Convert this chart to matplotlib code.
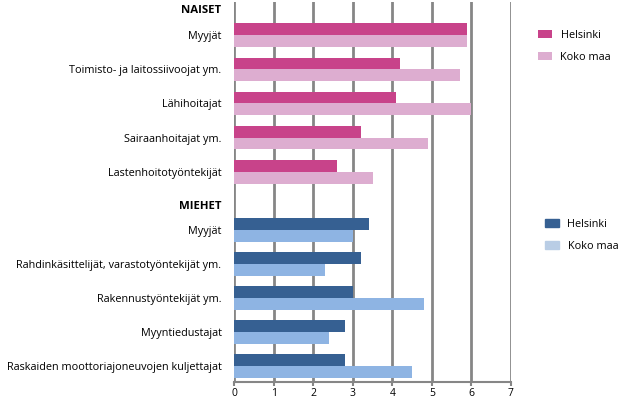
import matplotlib
matplotlib.use("Agg")
import matplotlib.pyplot as plt
import matplotlib.patches as mpatches
import numpy as np

plt.rcParams['font.family'] = ['Open Sans', 'DejaVu Sans']

women_cats = ["Myyjät", "Toimisto- ja laitossiivoojat ym.", "Lähihoitajat",
              "Sairaanhoitajat ym.", "Lastenhoitotyöntekijät"]
women_helsinki = [5.9, 4.2, 4.1, 3.2, 2.6]
women_koko = [5.9, 5.7, 6.0, 4.9, 3.5]

men_cats = ["Myyjät", "Rahdinkäsittelijät, varastotyöntekijät ym.", "Rakennustyöntekijät ym.",
            "Myyntiedustajat", "Raskaiden moottoriajoneuvojen kuljettajat"]
men_helsinki = [3.4, 3.2, 3.0, 2.8, 2.8]
men_koko = [3.0, 2.3, 4.8, 2.4, 4.5]

series_labels = ["Helsinki", "Koko maa"]
headers = ["NAISET", "MIEHET"]
xticks = list(range(0, 8))

W, H = 619, 399
fig = plt.figure(figsize=(W / 100, H / 100), dpi=100)

left = 234 / W
width = (511 - 234) / W
ax1 = fig.add_axes([left, 1 - 195 / H, width, (195 - 2) / H])
ax2 = fig.add_axes([left, 1 - 382 / H, width, (382 - 195) / H])

grid_color = "#868686"
bar_h = 0.34
fs = 7.8

def draw(ax, cats, hel, koko, header, colors, ylim, header_y, xaxis):
    y = np.arange(1, len(cats) + 1)
    ax.barh(y - bar_h / 2, hel, height=bar_h, color=colors[0], label=series_labels[0], zorder=3)
    ax.barh(y + bar_h / 2, koko, height=bar_h, color=colors[1], label=series_labels[1], zorder=3)
    ax.set_xlim(0, 7)
    ax.set_ylim(*ylim)
    ax.set_yticks(list(y) + [header_y])
    ax.set_yticklabels(cats + [header])
    for lbl in ax.get_yticklabels():
        lbl.set_fontsize(fs)
        lbl.set_color("#000000")
    ax.get_yticklabels()[-1].set_fontweight("bold")
    ax.get_yticklabels()[-1].set_fontsize(8.2)
    ax.tick_params(axis='y', length=0, pad=9)
    ax.set_xticks(xticks)
    ax.grid(axis='x', color=grid_color, linewidth=2, zorder=0)
    for s in ["top", "right", "left"]:
        ax.spines[s].set_visible(False)
    if xaxis:
        ax.spines["bottom"].set_color(grid_color)
        ax.spines["bottom"].set_linewidth(1.5)
        ax.tick_params(axis='x', length=3, color=grid_color, width=1.5, labelsize=7.5, pad=1)
    else:
        ax.spines["bottom"].set_visible(False)
        ax.tick_params(axis='x', length=0, labelbottom=False)

draw(ax1, women_cats, women_helsinki, women_koko, headers[0],
     ["#C8438A", "#DDADD0"], (5.67, 0.04), 0.24, False)
draw(ax2, men_cats, men_helsinki, men_koko, headers[1],
     ["#366092", "#8EB4E3"], (5.47, -0.03), 0.26, True)

leg1 = fig.legend(*ax1.get_legend_handles_labels(), loc="upper left",
                  bbox_to_anchor=(528 / W, 1 - 20 / H), frameon=False, fontsize=fs,
                  handlelength=1.3, handleheight=0.7, labelspacing=1.0, handletextpad=0.8)
l2 = ax2.get_legend_handles_labels()[1]
h2 = [mpatches.Patch(color="#366092"), mpatches.Patch(color="#B9CDE5")]
leg2 = fig.legend(h2, l2, loc="upper left",
                  bbox_to_anchor=(535 / W, 1 - 209 / H), frameon=False, fontsize=fs,
                  handlelength=1.3, handleheight=0.7, labelspacing=1.0, handletextpad=0.8)

fig.savefig("out.png", dpi=100)
